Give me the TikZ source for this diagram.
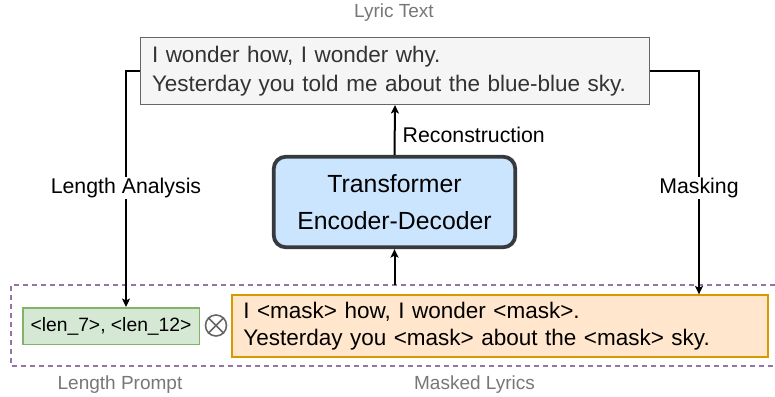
\documentclass[tikz,border=0pt]{standalone}
\usepackage{fontspec}
\setmainfont{Liberation Sans}
\usetikzlibrary{arrows.meta,calc}
\definecolor{lyfill}{HTML}{F5F5F5}
\definecolor{lydraw}{HTML}{666666}
\definecolor{lytext}{HTML}{333333}
\definecolor{trfill}{HTML}{CCE5FF}
\definecolor{trdraw}{HTML}{36393D}
\definecolor{grfill}{HTML}{D5E8D4}
\definecolor{grdraw}{HTML}{82B366}
\definecolor{orfill}{HTML}{FFE6CC}
\definecolor{ordraw}{HTML}{D79B00}
\definecolor{pudraw}{HTML}{9673A6}
\definecolor{captext}{HTML}{777777}
\begin{document}
\begin{tikzpicture}[x=1pt,y=-1pt,
  arr/.style={draw=black, line width=2pt, -{Stealth[length=8.5pt,width=8pt,inset=2pt]}},
  lbl/.style={font=\fontsize{21.3}{24}\selectfont, fill=white, inner sep=1.5pt},
  capt/.style={font=\fontsize{19}{22}\selectfont, text=captext},
  lyricbox/.style={draw=lydraw, fill=lyfill, line width=1.5pt, text=lytext,
    minimum height=66.5pt, text width=486pt, inner xsep=11.5pt, inner ysep=3pt,
    align=left, font=\fontsize{22.5}{29}\selectfont},
  trbox/.style={draw=trdraw, fill=trfill, line width=3.8pt, rounded corners=12pt,
    minimum width=241.5pt, minimum height=90.5pt, align=center,
    font=\fontsize{24.8}{37.7}\selectfont},
  grbox/.style={draw=grdraw, fill=grfill, line width=1.5pt,
    minimum width=176.5pt, minimum height=36.5pt, inner sep=0pt,
    font=\fontsize{19.3}{22}\selectfont},
  orbox/.style={draw=ordraw, fill=orfill, line width=1.8pt,
    minimum height=61.5pt, text width=514pt, inner xsep=11pt, inner ysep=3pt,
    align=left, font=\fontsize{22.5}{27}\selectfont},
  oxnode/.style={circle, draw=lydraw, line width=1.6pt, minimum size=21pt, inner sep=0pt},
  grpline/.style={draw=pudraw, line width=1.6pt, dash pattern=on 5pt off 4pt}
]
\useasboundingbox (0,0) rectangle (775,396);

% group frame (open on the right, clipped by picture edge)
\coordinate (gtr) at (775,285);
\coordinate (gtl) at (11,285);
\coordinate (gbl) at (11,366);
\coordinate (gbr) at (775,366);
\draw[grpline] (gtr) -- (gtl) -- (gbl) -- (gbr);

\node[lyricbox] (lyric) at (395,71) {I wonder how, I wonder why.\\Yesterday you told me about the blue-blue sky.};
\node[trbox] (tr) at (394.5,202) {Transformer\\Encoder-Decoder};
\node[grbox] (green) at (111,326) {<len\_7>, <len\_12>};
\node[oxnode] (ox) at (216,325.5) {};
\draw[draw=lydraw, line width=1.6pt] (ox.45) -- (ox.225) (ox.135) -- (ox.-45);
\node[orbox] (orange) at (500.3,326) {I <mask> how, I wonder <mask>.\\Yesterday you <mask> about the <mask> sky.};

\node[capt] (lt) at (394,13) {Lyric Text};
\node[capt] (lp) at (120,385) {Length Prompt};
\node[capt] (ml) at (474.5,385) {Masked Lyrics};

\coordinate (lx) at (126,0);
\coordinate (rx) at (699,0);

\draw[arr] (lyric.west) -| (lx |- green.north)
  node[lbl, pos=0.748] {Length Analysis};
\draw[arr] (lyric.east) -| (rx |- orange.north)
  node[lbl, pos=0.762] {Masking};
\draw[arr] (tr.north) -- (lyric.south)
  node[pos=0.4, right, font=\fontsize{21.3}{24}\selectfont, inner xsep=7pt] {Reconstruction};
\draw[arr] (tr.south |- gtl) -- (tr.south);
\end{tikzpicture}
\end{document}
